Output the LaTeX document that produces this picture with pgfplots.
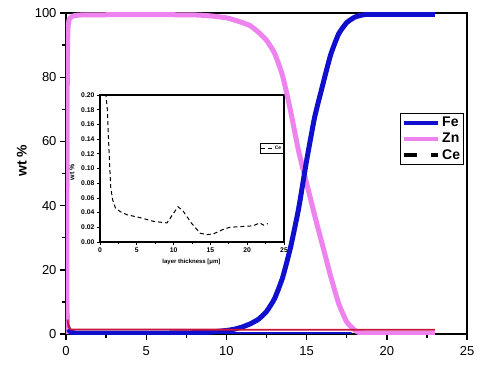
\documentclass[border=0pt]{standalone}
\usepackage{pgfplots}
\pgfplotsset{compat=1.18}
\usepackage{fontspec}
\setmainfont{Liberation Sans}
\definecolor{feblue}{RGB}{15,15,205}
\definecolor{znviolet}{RGB}{238,130,238}
\definecolor{cered}{RGB}{200,20,60}
\pgfplotstableread{
x y
0.5 0.25
0.8 0.20
1.0 0.18
1.2 0.13
1.45 0.075
1.7 0.058
2.1 0.046
2.8 0.041
3.7 0.037
5.5 0.033
7.3 0.028
9.1 0.026
10.6 0.048
11.3 0.042
12.4 0.026
13.6 0.012
14.5 0.010
15.4 0.011
16.7 0.017
17.6 0.020
19.2 0.021
20.8 0.022
21.7 0.026
22.2 0.023
22.8 0.025
}\cedata
\pgfplotstableread{
x y
0.05 0
0.06 40
0.08 80
0.12 95
0.2 98
0.4 99
1 99.4
5 99.5
8 99.4
9 99.1
10 98.5
10.5 97.8
11 97
11.5 96
12 94
12.5 91.5
13 87.5
13.5 80.5
14 69.5
14.5 57
15 47
15.5 37
16 27.5
16.5 18
17 9.5
17.5 3.8
18 1.2
18.3 0.4
19 0.2
23 0.2
}\zndata
\pgfplotstableread{
x y
0.15 1.5
0.3 0.6
0.6 0.3
2 0.25
5 0.25
8 0.4
9 0.6
10 1.1
10.5 1.5
11 2.2
11.5 3.2
12 4.6
12.5 7
13 11
13.5 17.5
14 27
14.5 39
15 54
15.5 67.5
16 77.5
16.5 87
17 93.5
17.5 97
18 98.7
18.5 99.4
19 99.6
23 99.6
}\fedata
\pgfplotstableread{
x y
0.08 11
0.12 13
0.16 3
0.3 0.8
1 0.35
17.8 0.3
}\febase
\pgfplotstableread{
x y
0.1 4.5
0.15 2.2
0.3 1.4
23 1.3
}\reddata
\begin{document}
\begin{tikzpicture}
\useasboundingbox (0,0) rectangle (500pt,370pt);
% inset
\begin{axis}[at={(100pt,128pt)}, anchor=south west, scale only axis,
  width=184pt, height=147pt,
  xmin=0, xmax=25, ymin=0, ymax=0.2,
  xtick={0,5,10,15,20,25}, minor xtick={2.5,7.5,12.5,17.5,22.5},
  ytick={0,0.02,0.04,0.06,0.08,0.10,0.12,0.14,0.16,0.18,0.20},
  tick align=outside, xtick pos=bottom, ytick pos=left,
  major tick length=3pt, minor tick length=2pt,
  axis line style={line width=1.1pt},
  tick style={line width=0.8pt, black},
  /pgf/number format/assume math mode=true,
  ticklabel style={font=\fontsize{6.8}{7}\selectfont\bfseries},
  yticklabel style={/pgf/number format/fixed, /pgf/number format/fixed zerofill, /pgf/number format/precision=2, xshift=1pt},
  xticklabel style={yshift=1pt},
  ylabel={wt \%}, ylabel style={font=\fontsize{7}{8}\selectfont\bfseries, at={(axis description cs:-0.152,0.476)}, anchor=center},
  xlabel={layer thickness [μm]}, xlabel style={font=\fontsize{6}{7}\selectfont\bfseries, at={(axis description cs:0.497,-0.139)}, anchor=center},
  legend style={at={(1,0.675)}, anchor=north east, font=\fontsize{5}{6}\selectfont\bfseries, inner sep=0.5pt, line width=0.6pt, draw=black},
  legend cell align=left,
  legend image code/.code={\draw[#1] (0pt,0pt) -- (11pt,0pt);},
]
\addplot[black, line width=1pt, dash pattern=on 4pt off 3pt] table[x=x,y=y] {\cedata};
\addlegendentry{Ce}
\end{axis}
% main
\begin{axis}[at={(66pt,36pt)}, anchor=south west, scale only axis,
  width=401pt, height=321pt,
  xmin=0, xmax=25, ymin=0, ymax=100,
  xtick={0,5,10,15,20,25}, minor xtick={2.5,7.5,12.5,17.5,22.5},
  ytick={0,20,40,60,80,100}, minor ytick={10,30,50,70,90},
  tick align=outside, xtick pos=bottom, ytick pos=left,
  major tick length=6pt, minor tick length=3.5pt,
  axis line style={line width=1.6pt},
  tick style={line width=1.4pt, black},
  /pgf/number format/assume math mode=true,
  ticklabel style={font=\fontsize{13}{15}\selectfont},
  xticklabel style={yshift=-3pt},
  ylabel={wt \%}, ylabel style={font=\fontsize{14}{16}\selectfont\bfseries, at={(axis description cs:-0.11,0.54)}, anchor=center},
  legend style={at={(0.9925,0.688)}, anchor=north east, font=\fontsize{14}{16}\selectfont\bfseries, draw=black, line width=0.8pt, inner sep=1.5pt, row sep=1pt},
  legend cell align=left,
  legend image code/.code={\draw[#1] (0pt,0pt) -- (34pt,0pt);},
]
\addlegendimage{feblue, line width=4pt}
\addlegendentry{Fe}
\addlegendimage{znviolet, line width=4pt}
\addlegendentry{Zn}
\addlegendimage{black, line width=4pt, dash pattern=on 13pt off 14pt}
\addlegendentry{Ce}
\addplot[forget plot, black, line width=0.8pt, dashed] table[x=x,y=y] {\cedata};
\addplot[forget plot, feblue, line width=1.8pt] table[x=x,y=y] {\febase};
\addplot[forget plot, znviolet, line width=5pt, smooth, tension=0.3] table[x=x,y=y] {\zndata};
\addplot[forget plot, feblue, line width=5pt, smooth, tension=0.3] table[x=x,y=y] {\fedata};
\addplot[forget plot, cered, line width=1.8pt] table[x=x,y=y] {\reddata};
\end{axis}
\end{tikzpicture}
\end{document}
